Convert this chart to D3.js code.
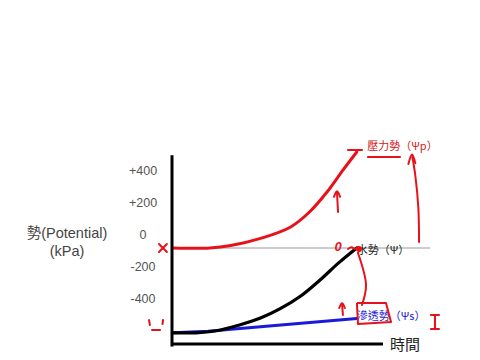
<!DOCTYPE html>
<html><head><meta charset="utf-8">
<script src="https://cdn.jsdelivr.net/npm/d3@7"></script>
<style>body{margin:0;background:#fff}svg{display:block}</style>
</head><body>
<svg id="c" width="480" height="360"></svg>
<script>
// ---- data (time in arbitrary units, potential in kPa) ----
const tickLabels = ["+400", "+200", "0", "-200", "-400"];
const tickValues = [400, 200, 0, -200, -400];
const timePressure = [0, 2.1, 3.3, 5, 6.7, 7.8, 8.8, 9.7, 10.5];
const pressure     = [0, 0, 15, 60, 130, 225, 350, 485, 600];
const timeWater    = [0, 1.3, 2.4, 3.8, 5, 6.1, 7.3, 8.4, 9.5, 10.5];
const water        = [-530, -530, -519, -481, -438, -381, -300, -200, -90, 0];
const timeOsmotic  = [0, 2, 10.5];
const osmotic      = [-530, -520, -440];
const seriesNames  = ["壓力勢（Ψp）", "水勢（Ψ）", "滲透勢（Ψs）"];
const yTitle = ["勢(Potential)", "(kPa)"];
const xTitle = "時間";

const svg = d3.select("#c");
const x = d3.scaleLinear().domain([0, 12]).range([173, 383]);
const y = d3.scaleLinear().domain([0, 200]).range([248, 216]);
const yTick = d3.scaleLinear().domain([-400, 400]).range([298, 170]);
const RED = "#e8111a", BLUE = "#1a1ad8";

// zero line
svg.append("line").attr("x1", x(0)).attr("x2", x(14.7)).attr("y1", y(0)).attr("y2", y(0))
  .attr("stroke", "#999").attr("stroke-width", 1);

// tick labels
svg.selectAll("text.tick").data(tickValues).join("text")
  .attr("x", 143).attr("y", d => yTick(d) + 4.5).attr("text-anchor", "middle")
  .attr("font-family", "Liberation Sans, Arial, sans-serif").attr("font-size", 12.5)
  .attr("fill", "#555").text((d, i) => tickLabels[i]);

// y title
svg.selectAll("text.yt").data(yTitle).join("text")
  .attr("x", 67).attr("y", (d, i) => 238 + i * 18).attr("text-anchor", "middle")
  .attr("font-family", "Liberation Sans, 'Noto Sans CJK TC', sans-serif").attr("font-size", 14.5)
  .attr("fill", "#444").text(d => d);

const line = d3.line().x(d => x(d[0])).y(d => y(d[1])).curve(d3.curveCatmullRom.alpha(0.5));
const lineL = d3.line().x(d => x(d[0])).y(d => y(d[1]));
const zip = (a, b) => a.map((t, i) => [t, b[i]]);

svg.append("path").attr("d", lineL(zip(timeOsmotic, osmotic))).attr("fill", "none")
  .attr("stroke", BLUE).attr("stroke-width", 3).attr("stroke-linecap", "round");
svg.append("path").attr("d", line(zip(timeWater, water))).attr("fill", "none")
  .attr("stroke", "#000").attr("stroke-width", 3.2).attr("stroke-linecap", "round");
svg.append("path").attr("d", line(zip(timePressure, pressure))).attr("fill", "none")
  .attr("stroke", RED).attr("stroke-width", 3).attr("stroke-linecap", "round");

// axes
svg.append("line").attr("x1", x(0) - 1).attr("x2", x(0) - 1).attr("y1", y(580)).attr("y2", y(-616))
  .attr("stroke", "#000").attr("stroke-width", 3);
svg.append("line").attr("x1", x(0) - 2).attr("x2", x(12)).attr("y1", y(-600)).attr("y2", y(-600))
  .attr("stroke", "#000").attr("stroke-width", 3);
svg.append("text").attr("x", x(12) + 7).attr("y", y(-600) + 6)
  .attr("font-family", "'Noto Sans CJK TC', sans-serif").attr("font-size", 15).attr("fill", "#222")
  .text(xTitle);

// series labels
const labelPos = [[11.1, 612, "#d42020"], [10.5, -38, "#222"], [10.5, -450, BLUE]];
svg.selectAll("text.sl").data(seriesNames).join("text")
  .attr("x", (d, i) => x(labelPos[i][0])).attr("y", (d, i) => y(labelPos[i][1]))
  .attr("font-family", "'Noto Sans CJK TC', sans-serif").attr("font-size", 11)
  .attr("fill", (d, i) => labelPos[i][2]).text(d => d);

// hand-drawn annotations (in data units)
const annoPaths = [
  [[10, 612], [10.8, 612]],                          // dash before label
  [[11.14, 569], [12.97, 569]],                      // underline
  [[9.43, 225], [9.37, 350]],                        // arrow shaft
  [[9.2, 320], [9.37, 355], [9.55, 320]],            // arrow head
  [[14.06, 37], [14.02, 250], [13.85, 450], [13.66, 581]], // big arrow
  [[13.45, 525], [13.66, 585], [13.85, 530]],
  [[9.71, -419], [9.66, -350]],                      // small arrow
  [[9.5, -375], [9.66, -345], [9.82, -375]],
  [[10.57, -31], [11.03, -231], [10.8, -356]],       // connector
  [[14.97, -419], [14.97, -506]], [[14.74, -419], [15.2, -419]], [[14.74, -506], [15.2, -506]], // I
  [[-1.37, -450], [-1.32, -481]], [[-1.2, -512], [-0.74, -512]], [[-0.57, -450], [-0.6, -475]], // '_'
  [[10, -6], [10.2, 4], [10.4, -6], [10.57, 6]],     // squiggle
  [[-0.8, 25], [-0.35, -25]], [[-0.35, 25], [-0.8, -25]] // X
];
const boxPts = [[10.51, -344], [12.17, -344], [12.46, -462], [10.57, -475], [10.51, -344]];
const aline = d3.line().x(d => x(d[0])).y(d => y(d[1])).curve(d3.curveCatmullRom);
svg.selectAll("path.anno").data(annoPaths).join("path")
  .attr("d", d => aline(d)).attr("fill", "none").attr("stroke", RED)
  .attr("stroke-width", 2).attr("stroke-linecap", "round");
svg.append("path").attr("d", lineL(boxPts)).attr("fill", "none").attr("stroke", RED)
  .attr("stroke-width", 2).attr("stroke-linejoin", "round");
svg.append("circle").attr("cx", x(10.63)).attr("cy", y(-6)).attr("r", 3).attr("fill", RED);
svg.append("text").attr("x", x(9.43)).attr("y", y(-20)).attr("text-anchor", "middle")
  .attr("font-family", "Liberation Sans, sans-serif").attr("font-weight", "bold").attr("font-style", "italic")
  .attr("font-size", 13).attr("fill", RED).text("0");
</script>
</body></html>
